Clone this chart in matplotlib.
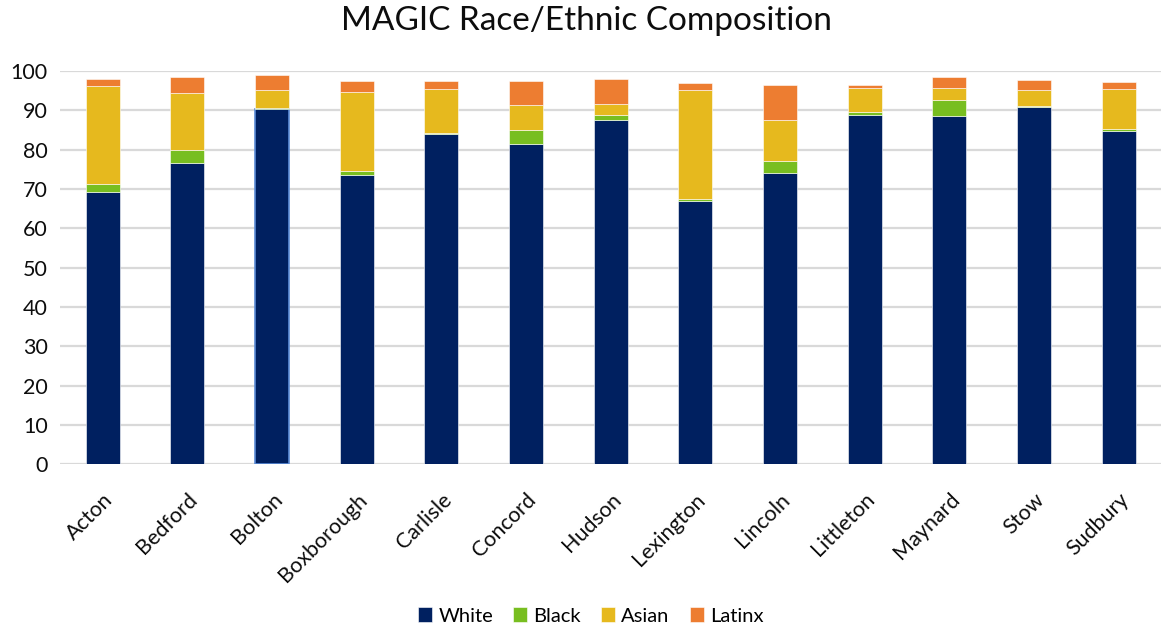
import numpy as np
import matplotlib
matplotlib.use("Agg")
import matplotlib.pyplot as plt

plt.rcParams['font.family'] = ['Lato', 'DejaVu Sans']

towns = ["Acton", "Bedford", "Bolton", "Boxborough", "Carlisle", "Concord",
         "Hudson", "Lexington", "Lincoln", "Littleton", "Maynard", "Stow", "Sudbury"]
white = [69.2, 76.7, 90.3, 73.5, 84.0, 81.5, 87.5, 67.0, 74.0, 88.9, 88.6, 91.0, 84.7]
black = [2.2, 3.2, 0.4, 1.1, 0.2, 3.4, 1.3, 0.6, 3.2, 0.7, 4.1, 0.2, 0.6]
asian = [24.8, 14.5, 4.5, 20.1, 11.2, 6.4, 2.8, 27.6, 10.3, 6.0, 3.0, 4.1, 10.1]
latinx = [1.9, 4.0, 3.7, 2.9, 2.2, 6.3, 6.5, 1.9, 8.9, 0.8, 2.9, 2.5, 1.8]

series = [("White", white, "#002060"), ("Black", black, "#78BE20"),
          ("Asian", asian, "#E6B91E"), ("Latinx", latinx, "#ED7D31")]

fig = plt.figure(figsize=(11.61, 6.24), dpi=100)
ax = fig.add_axes([0.052, 0.256, 0.948, 0.63])

x = np.arange(len(towns))
bottom = np.zeros(len(towns))
for name, vals, col in series:
    vals = np.array(vals)
    ax.bar(x, vals, 0.4, bottom=bottom, color=col, label=name,
           edgecolor="white", linewidth=0.4, zorder=3)
    bottom += vals
# Bolton's white segment has a highlighted outline in the original
bars_w = ax.patches[2]
bars_w.set_edgecolor("#5B8BD6")
bars_w.set_linewidth(1.2)

ax.set_xlim(-0.5, len(towns) - 0.5)
ax.set_ylim(0, 100)
ax.set_yticks(np.arange(0, 101, 10))
ax.yaxis.grid(True, color="#d9d9d9", linewidth=1.6, zorder=0)
ax.set_axisbelow(True)
for s in ax.spines.values():
    s.set_visible(False)
ax.tick_params(length=0, labelsize=15.5, colors="#0d0d0d", pad=9)
ax.set_xticks(x)
ax.set_xticklabels(towns, rotation=45, ha="right", rotation_mode="anchor")
ax.tick_params(axis="x", pad=18)

fig.suptitle("MAGIC Race/Ethnic Composition", fontsize=24, x=0.505, y=0.99,
             color="#0d0d0d")
fig.legend(loc="lower center", ncol=4, frameon=False, fontsize=14.5,
           bbox_to_anchor=(0.509, -0.03), handlelength=0.7, handleheight=0.7,
           handletextpad=0.3, columnspacing=1.0)

fig.savefig("out.png", dpi=100)
